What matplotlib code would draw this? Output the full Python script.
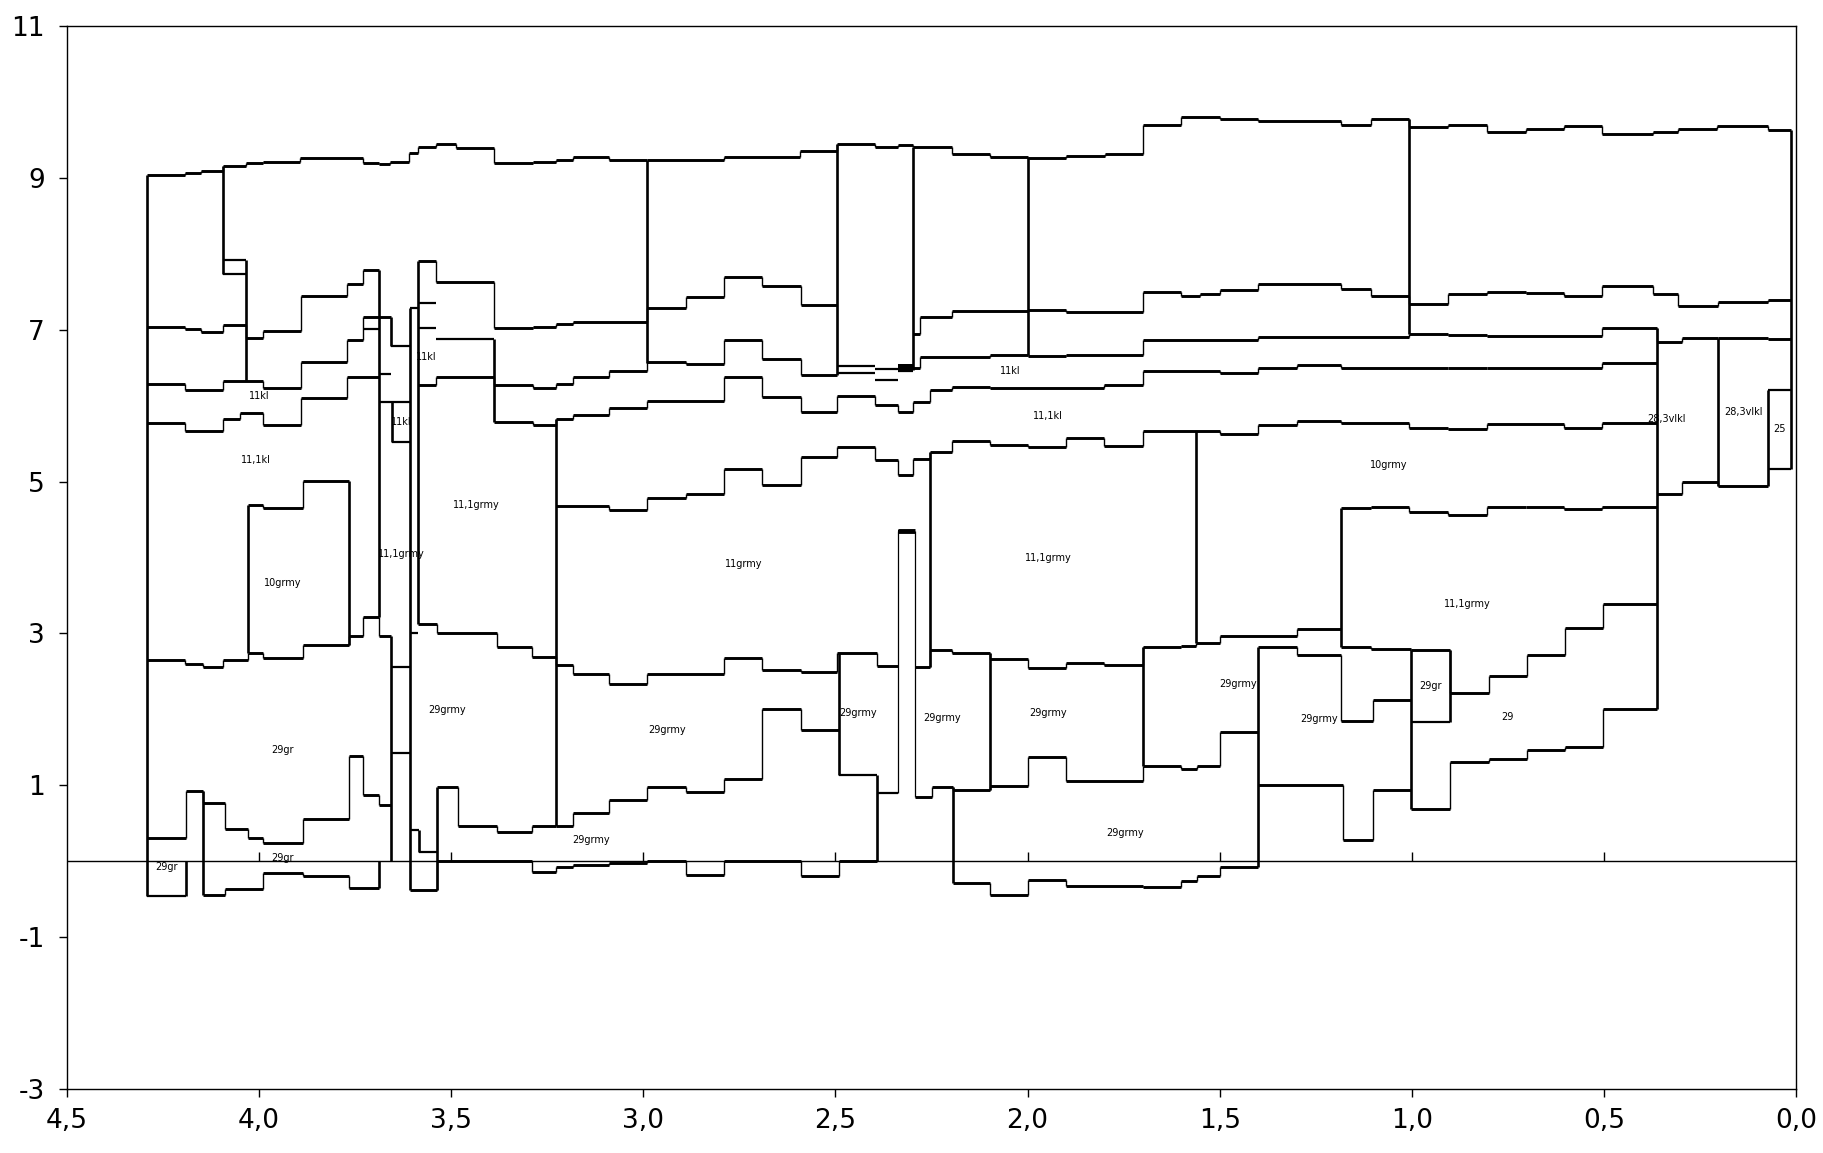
import matplotlib
matplotlib.use("Agg")
import matplotlib.pyplot as plt
import numpy as np

# ---- stepped boundaries: edges (x) and levels (y) ----
top_x = [4.293, 4.193, 4.15, 4.094, 4.033, 3.99, 3.894, 3.730, 3.687, 3.66, 3.609, 3.587,
         3.539, 3.487, 3.388, 3.288, 3.228, 3.184, 3.089, 2.99, 2.79, 2.591, 2.496, 2.397,
         2.336, 2.297, 2.197, 2.098, 1.998, 1.899, 1.799, 1.70, 1.60, 1.50, 1.401, 1.184,
         1.106, 1.007, 0.907, 0.803, 0.704, 0.604, 0.505, 0.371, 0.306, 0.206, 0.072, 0.014]
top_y = [9.04, 9.06, 9.09, 9.16, 9.19, 9.21, 9.26, 9.20, 9.18, 9.21, 9.33, 9.41, 9.45,
         9.39, 9.19, 9.21, 9.24, 9.27, 9.24, 9.24, 9.27, 9.35, 9.44, 9.40, 9.43, 9.41,
         9.32, 9.27, 9.26, 9.29, 9.32, 9.70, 9.80, 9.77, 9.75, 9.70, 9.77, 9.67, 9.70,
         9.60, 9.64, 9.68, 9.58, 9.60, 9.65, 9.68, 9.63]

b1_x = [4.293, 4.193, 4.15, 4.094, 4.033, 3.99, 3.89, 3.77, 3.73, 3.687]
b1_y = [7.04, 7.01, 6.97, 7.06, 6.89, 6.98, 7.44, 7.60, 7.79]

b2_x = [3.587, 3.539, 3.388, 3.288, 3.228, 3.184, 2.99, 2.89, 2.79, 2.69, 2.59, 2.496]
b2_y = [7.90, 7.63, 7.02, 7.04, 7.08, 7.10, 7.29, 7.43, 7.69, 7.58, 7.32]

b3_x = [2.297, 2.28, 2.197, 1.998, 1.899, 1.70, 1.60, 1.55, 1.50, 1.401, 1.184, 1.106,
        1.007, 0.907, 0.803, 0.704, 0.604, 0.505, 0.371, 0.306, 0.202, 0.072, 0.014]
b3_y = [6.95, 7.17, 7.24, 7.26, 7.23, 7.50, 7.45, 7.47, 7.52, 7.60, 7.54, 7.44, 7.34,
        7.47, 7.50, 7.48, 7.44, 7.58, 7.47, 7.31, 7.36, 7.39]

h_x = [4.293, 4.193, 4.094, 3.99, 3.89, 3.77, 3.73, 3.656]
h_y = [6.29, 6.20, 6.33, 6.23, 6.58, 6.86, 7.17]

i_x = [4.293, 4.193, 4.094, 4.05, 3.99, 3.89, 3.77, 3.687]
i_y = [5.77, 5.66, 5.83, 5.90, 5.74, 6.10, 6.38]

c1_x = [3.587, 3.539, 3.388, 3.288, 3.228, 3.184, 3.089, 2.99, 2.89, 2.79, 2.69, 2.59, 2.496]
c1_y = [6.27, 6.38, 6.27, 6.23, 6.29, 6.38, 6.45, 6.58, 6.55, 6.86, 6.61, 6.40]

c2_x = [2.297, 2.28, 2.098, 1.998, 1.899, 1.70, 1.401, 1.007, 0.907, 0.803, 0.505,
        0.362, 0.297, 0.202, 0.072, 0.014]
c2_y = [6.49, 6.64, 6.67, 6.65, 6.67, 6.86, 6.91, 6.95, 6.93, 6.92, 7.02, 6.84, 6.89,
        6.89, 6.88]

f_x = [3.388, 3.288, 3.227, 3.184, 3.089, 2.99, 2.79, 2.69, 2.59, 2.496, 2.397, 2.336,
       2.297, 2.254, 2.197, 2.098, 1.80, 1.70, 1.50, 1.401, 1.30, 1.184, 0.907, 0.803,
       0.505, 0.362]
f_y = [5.79, 5.74, 5.83, 5.88, 5.97, 6.06, 6.38, 6.12, 5.91, 6.13, 6.01, 5.91, 6.05,
       6.20, 6.25, 6.23, 6.27, 6.45, 6.43, 6.49, 6.54, 6.50, 6.49, 6.50, 6.56]

e_x = [3.227, 3.089, 2.99, 2.89, 2.79, 2.69, 2.59, 2.496, 2.397, 2.336, 2.297, 2.254,
       2.197, 2.098, 1.998, 1.899, 1.80, 1.70, 1.50, 1.40, 1.30, 1.184, 1.007, 0.907,
       0.803, 0.604, 0.505, 0.362]
e_y = [4.68, 4.63, 4.78, 4.84, 5.16, 4.96, 5.33, 5.45, 5.28, 5.08, 5.30, 5.39, 5.53,
       5.48, 5.46, 5.58, 5.47, 5.67, 5.63, 5.74, 5.80, 5.77, 5.71, 5.69, 5.76, 5.71, 5.77]

j_x = [1.184, 1.106, 1.007, 0.907, 0.803, 0.704, 0.604, 0.505, 0.362]
j_y = [4.65, 4.66, 4.60, 4.56, 4.67, 4.66, 4.64, 4.67]

g_x = [3.587, 3.536, 3.38, 3.29, 3.227, 3.184, 3.089, 2.99, 2.79, 2.69, 2.59, 2.496,
       2.392, 2.336]
g_y = [3.13, 3.00, 2.82, 2.69, 2.58, 2.46, 2.33, 2.46, 2.68, 2.52, 2.49, 2.74, 2.57]

g2_x = [2.294, 2.254, 2.197, 2.098, 1.998, 1.899, 1.80, 1.70, 1.60, 1.561, 1.50, 1.30, 1.184]
g2_y = [2.56, 2.78, 2.74, 2.66, 2.54, 2.61, 2.58, 2.82, 2.84, 2.87, 2.96, 3.06]

k_x = [1.401, 1.30, 1.184, 1.10, 1.003]
k_y = [2.82, 2.72, 1.85, 2.12]

m_x = [1.184, 1.106, 1.003, 0.90, 0.80, 0.70, 0.60, 0.502, 0.362]
m_y = [2.82, 2.80, 2.78, 2.22, 2.44, 2.71, 3.07, 3.39]

n_x = [1.003, 0.90, 0.80, 0.70, 0.60, 0.502, 0.362]
n_y = [0.69, 1.31, 1.35, 1.47, 1.51, 2.01]

p_x = [1.401, 1.18, 1.10, 1.003]
p_y = [1.00, 0.28, 0.94]

q_x = [2.294, 2.25, 2.193, 2.098, 1.998, 1.899, 1.70, 1.60, 1.56, 1.50, 1.401]
q_y = [0.85, 0.98, 0.94, 0.99, 1.37, 1.05, 1.25, 1.21, 1.25, 1.70]

r_x = [2.193, 2.098, 1.998, 1.899, 1.70, 1.60, 1.56, 1.50, 1.401]
r_y = [-0.29, -0.45, -0.25, -0.33, -0.34, -0.26, -0.20, -0.07]

s_x = [3.536, 3.483, 3.38, 3.29, 3.227, 3.184, 3.089, 2.99, 2.89, 2.79, 2.69, 2.59, 2.492]
s_y = [0.98, 0.47, 0.39, 0.47, 0.47, 0.64, 0.80, 0.98, 0.91, 1.08, 2.00, 1.73]

t_x = [3.607, 3.536, 3.29, 3.227, 3.184, 3.089, 2.99, 2.89, 2.79, 2.59, 2.49, 2.392]
t_y = [-0.38, 0.0, -0.14, -0.08, -0.05, -0.03, 0.0, -0.18, 0.0, -0.19, 0.0]

u_x = [4.293, 4.193, 4.145, 4.094, 4.03, 3.99, 3.886, 3.766, 3.73, 3.687, 3.656]
u_y = [2.65, 2.60, 2.56, 2.65, 2.74, 2.67, 2.85, 2.96, 3.22, 2.96]

box10_x = [4.03, 3.99, 3.886, 3.766]
box10_y = [4.69, 4.65, 5.01]

v_x = [4.293, 4.19, 4.145, 4.09, 4.03, 3.99, 3.886, 3.766, 3.73, 3.687, 3.656]
v_y = [0.30, 0.93, 0.77, 0.43, 0.30, 0.24, 0.56, 1.38, 0.87, 0.74]

w_x = [4.145, 4.09, 3.99, 3.886, 3.766, 3.687]
w_y = [-0.45, -0.36, -0.15, -0.20, -0.35]

vl_x = [0.362, 0.297, 0.202, 0.072]
vl_y = [4.84, 5.00, 4.94]

steps = [(top_x, top_y), (b1_x, b1_y), (b2_x, b2_y), (b3_x, b3_y), (h_x, h_y),
         (i_x, i_y), (c1_x, c1_y), (c2_x, c2_y), (f_x, f_y), (e_x, e_y), (j_x, j_y),
         (g_x, g_y), (g2_x, g2_y), (k_x, k_y), (m_x, m_y), (n_x, n_y), (p_x, p_y),
         (q_x, q_y), (r_x, r_y), (s_x, s_y), (t_x, t_y), (u_x, u_y),
         (box10_x, box10_y), (v_x, v_y), (w_x, w_y), (vl_x, vl_y)]

# ---- vertical walls: x, bottom, top ----
wall_x = [4.293, 4.094, 4.033, 4.03, 3.766, 3.687, 3.687, 3.656, 3.656, 3.654, 3.607,
          3.587, 3.584, 3.536, 3.388, 3.227, 2.99, 2.496, 2.297, 2.492, 2.392,
          2.254, 2.193, 2.098, 1.998, 1.70, 1.561, 1.401, 1.184, 1.007, 1.003,
          0.90, 0.362, 0.202, 0.072, 0.014, 4.19, 4.145]
wall_lo = [-0.46, 7.74, 6.33, 2.74, 2.85, 3.22, -0.35, 6.79, 0.0, 5.52, -0.38,
           3.13, 0.12, -0.38, 5.79, 0.47, 6.56, 6.40, 6.47, 1.13, 0.0,
           2.56, -0.29, 0.94, 6.67, 1.25, 2.87, -0.07, 2.82, 6.95, 0.69,
           1.84, 2.01, 4.94, 4.94, 5.17, -0.46, -0.45]
wall_hi = [9.04, 9.16, 7.92, 4.69, 5.01, 7.79, 0.0, 7.17, 2.96, 6.05, 7.28,
           7.90, 0.41, 0.98, 6.88, 5.83, 9.24, 9.44, 9.41, 2.74, 1.13,
           5.39, 0.98, 2.74, 9.27, 2.82, 5.67, 2.82, 4.65, 9.77, 2.78,
           2.78, 7.02, 6.89, 6.21, 9.63, 0.0, 0.93]

# thin column near 2.3
col_x = [2.336, 2.294]
col_lo = [0.90, 0.85]
col_hi = [4.35, 4.35]

# ---- short horizontal pieces: y, x from, x to ----
bit_y = [7.92, 7.74, 7.01, 6.42, 6.05, 5.52, 6.79, 7.28, 7.35, 7.02, 6.88, 3.00,
         2.56, 1.42, 0.41, 0.12, -0.46, 1.13, 0.90, 4.35, 1.84, 6.21, 5.17,
         6.52, 6.48, 6.43, 6.34, 6.45]
bit_x0 = [4.094, 4.094, 3.73, 3.687, 3.687, 3.654, 3.656, 3.607, 3.587, 3.587, 3.539, 3.607,
          3.656, 3.656, 3.607, 3.584, 4.293, 2.492, 2.392, 2.338, 1.003, 0.072, 0.072,
          2.496, 2.397, 2.496, 2.397, 2.336]
bit_x1 = [4.033, 4.033, 3.687, 3.656, 3.607, 3.607, 3.607, 3.587, 3.539, 3.539, 3.388, 3.587,
          3.607, 3.607, 3.584, 3.536, 4.19, 2.392, 2.336, 2.292, 0.90, 0.014, 0.014,
          2.397, 2.336, 2.397, 2.336, 2.297]

# ---- unit labels ----
lab_text = ["29gr", "29gr", "29gr", "10grmy", "11,1kl", "11kl", "11,1grmy", "11kl",
            "11kl", "11,1grmy", "29grmy", "29grmy", "29grmy", "11grmy", "29grmy",
            "29grmy", "11kl", "11,1kl", "11,1grmy", "29grmy", "29grmy", "29grmy",
            "29grmy", "10grmy", "11,1grmy", "29gr", "29", "28,3vlkl", "28,3vlkl", "25"]
lab_x = [4.24, 3.94, 3.938, 3.938, 4.008, 4.00, 3.63, 3.63, 3.565, 3.435, 3.51, 3.137,
         2.938, 2.739, 2.44, 2.223, 2.046, 1.946, 1.946, 1.946, 1.747, 1.453, 1.241,
         1.06, 0.855, 0.952, 0.751, 0.336, 0.137, 0.042]
lab_y = [-0.07, 0.04, 1.46, 3.66, 5.29, 6.13, 4.05, 5.78, 6.64, 4.69, 1.99, 0.28, 1.73,
         3.92, 1.95, 1.88, 6.45, 5.87, 3.99, 1.95, 0.37, 2.34, 1.87, 5.22, 3.39, 2.31,
         1.90, 5.83, 5.92, 5.69]

x_ticks = [4.5, 4.0, 3.5, 3.0, 2.5, 2.0, 1.5, 1.0, 0.5, 0.0]
y_ticks = [-3, -1, 1, 3, 5, 7, 9, 11]

THICK = 2.1
THIN = 1.0

fig = plt.figure(figsize=(18.23, 11.53), dpi=100)
ax = fig.add_axes([67 / 1823, 1 - 1089 / 1153, (1796 - 67) / 1823, (1089 - 26) / 1153])

for ex, ly in steps:
    ex = np.asarray(ex)
    ly = np.asarray(ly)
    ax.hlines(ly, ex[:-1], ex[1:], colors="black", lw=THICK)
    ax.vlines(ex[1:-1], ly[:-1], ly[1:], colors="black", lw=THIN)

ax.vlines(wall_x, wall_lo, wall_hi, colors="black", lw=1.9)
ax.vlines(col_x, col_lo, col_hi, colors="black", lw=0.9)
ax.hlines(bit_y, bit_x0, bit_x1, colors="black", lw=1.6)
ax.hlines([4.35], [2.338], [2.292], colors="black", lw=3.5)
ax.fill_between([2.336, 2.297], 6.47, 6.55, color="black", lw=0)

for txt, x, y in zip(lab_text, lab_x, lab_y):
    ax.text(x, y, txt, fontsize=7, ha="center", va="center")

# zero line with its small tick marks
ax.axhline(0, color="black", lw=1.0)
ax.vlines(x_ticks[1:-1], 0, 0.12, colors="black", lw=1.0)

ax.set_xlim(4.5, 0.0)
ax.set_ylim(-3, 11)
ax.set_xticks(x_ticks)
ax.set_xticklabels([f"{t:.1f}".replace(".", ",") for t in x_ticks])
ax.set_yticks(y_ticks)
ax.set_yticklabels([str(t) for t in y_ticks])
ax.tick_params(axis="both", labelsize=19, length=6, width=1, direction="out")
ax.tick_params(axis="y", pad=10)
ax.tick_params(axis="x", pad=8)
for sp in ax.spines.values():
    sp.set_linewidth(1.0)

fig.savefig("out.png", dpi=100, facecolor="white")
